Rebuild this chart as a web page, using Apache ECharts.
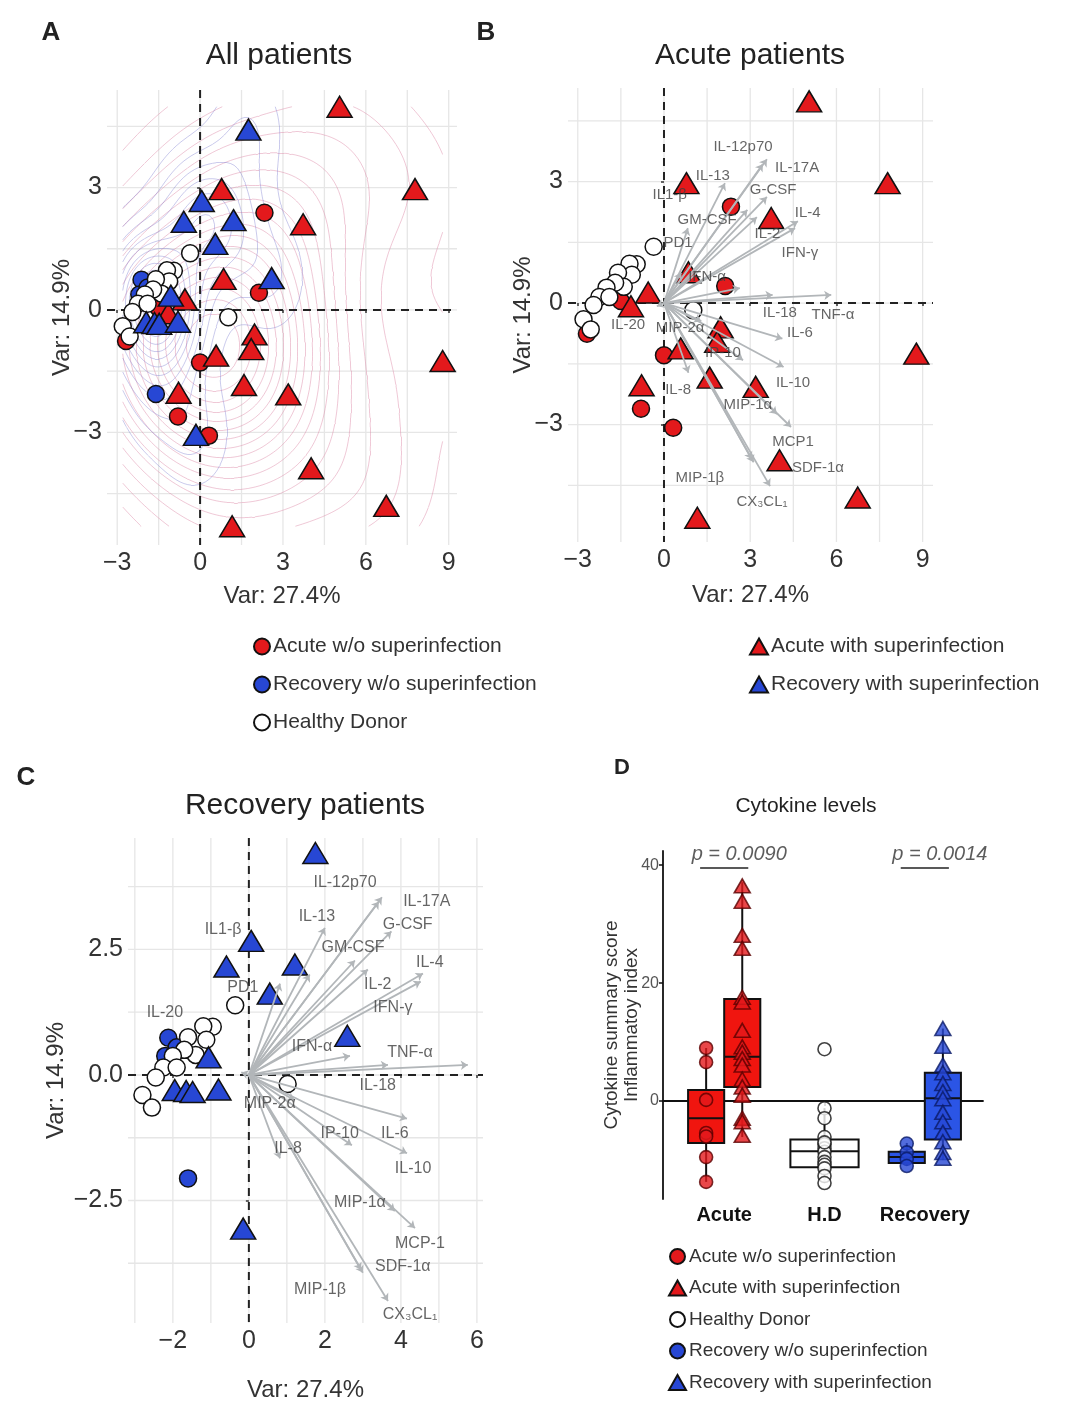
<!DOCTYPE html>
<html><head><meta charset="utf-8">
<script src="https://cdn.jsdelivr.net/npm/echarts@6.0.0/dist/echarts.min.js"></script>
<style>html,body{margin:0;padding:0;background:#fff}#c{width:1080px;height:1406px}</style>
</head><body><div id="c"></div>
<script>
// ================= DATA =================
// PCA scores (PC1 = Var 27.4%, PC2 = Var 14.9%)
const acuteWo   = [[2.33,2.38],[2.13,0.42],[0,-1.29],[-0.8,-2.61],[0.32,-3.08],[-1.5,0.05],[-2.68,-0.76]];
const acuteWith = [[5.05,4.98],[7.78,2.96],[0.78,2.96],[3.73,2.1],[0.85,0.76],[-0.55,0.26],[-1.15,-0.08],[1.97,-0.6],[1.85,-0.96],[0.58,-1.12],[8.78,-1.25],[1.59,-1.84],[3.19,-2.07],[-0.78,-2.03],[4.02,-3.88],[6.74,-4.8],[1.16,-5.3]];
const recWo     = [[-1.6,-2.06],[-2.12,0.74],[-2.2,0.38],[-1.9,0.55]];
const recWith   = [[1.75,4.42],[0.06,2.67],[-0.59,2.16],[1.21,2.2],[0.55,1.62],[2.59,0.78],[-0.15,-3.06],[-1.95,-0.3],[-1.65,-0.32],[-1.48,-0.34],[-0.8,-0.29],[-1.06,0.35]];
const healthy   = [[-0.36,1.39],[-0.95,0.96],[-1.2,0.97],[-1.12,0.7],[-1.6,0.75],[-1.4,0.4],[-1.7,0.5],[-2.0,0.38],[-2.25,0.15],[-2.45,-0.05],[-2.8,-0.4],[-2.55,-0.65],[1.02,-0.18],[-1.9,0.15]];

// Panel B (acute) loadings
const bNames = ['IL-12p70','IL-17A','IL-13','IL1-β','G-CSF','GM-CSF','IL-4','IL-2','IFN-γ','PD1','IFN-α','IL-18','TNF-α','IL-20','MIP-2α','IL-6','IP-10','IL-10','IL-8','MIP-1α','MCP1','SDF-1α','MIP-1β','CX₃CL₁'];
const bLoad  = [[3.58,3.55],[3.44,3.43],[2.12,2.96],[2.9,2.3],[3.58,2.62],[0.83,1.85],[4.66,2.02],[3.23,2.12],[4.56,1.85],[0.6,0.75],[2.64,0.37],[3.78,0.2],[5.82,0.2],[-0.25,-0.08],[1.3,-0.45],[4.12,-0.88],[2.75,-1.41],[4.16,-1.58],[0.85,-1.72],[3.93,-2.74],[4.42,-3.06],[3.12,-3.93],[3.05,-3.85],[3.69,-4.52]];
const bLabel = [[2.75,3.85],[4.63,3.33],[1.7,3.14],[0.2,2.67],[3.8,2.79],[1.5,2.05],[5.0,2.22],[3.6,1.7],[4.73,1.23],[0.49,1.48],[1.5,0.64],[4.03,-0.25],[5.88,-0.3],[-1.25,-0.54],[0.56,-0.62],[4.73,-0.74],[2.05,-1.23],[4.49,-1.98],[0.49,-2.15],[2.92,-2.52],[4.49,-3.43],[5.36,-4.07],[1.25,-4.32],[3.41,-4.91]];

// Panel C (recovery) loadings
const cNames = ['IL-12p70','IL-17A','IL-13','IL1-β','G-CSF','GM-CSF','IL-4','IL-2','IFN-γ','PD1','IFN-α','IL-18','TNF-α','IL-20','MIP-2α','IL-6','IP-10','IL-10','IL-8','MIP-1α','MCP-1','SDF-1α','MIP-1β','CX₃CL₁'];
const cLoad  = [[3.5,3.54],[3.42,3.45],[2.0,2.93],[1.6,2.0],[3.75,2.86],[2.79,2.28],[4.58,2.02],[3.13,2.1],[4.52,1.86],[0.82,1.82],[2.66,0.38],[3.66,0.2],[5.76,0.2],[-0.2,0.05],[1.2,-0.5],[4.16,-0.87],[2.71,-1.4],[4.16,-1.56],[0.82,-1.66],[3.84,-2.71],[4.37,-3.05],[3.0,-3.94],[2.95,-3.88],[3.66,-4.5]];
const cLabel = [[2.53,3.84],[4.68,3.45],[1.79,3.15],[-0.68,2.89],[4.18,2.99],[2.74,2.53],[4.76,2.24],[3.39,1.8],[3.79,1.35],[-0.16,1.74],[1.66,0.57],[3.39,-0.22],[4.24,0.44],[-2.21,1.25],[0.55,-0.57],[3.84,-1.17],[2.39,-1.17],[4.32,-1.86],[1.03,-1.47],[2.92,-2.55],[4.5,-3.35],[4.05,-3.82],[1.87,-4.28],[4.24,-4.77]];

// Tick values
const abXTicks = [-3,0,3,6,9];
const abYTicks = [-3,0,3];
const abXGrid  = [-3,-1.5,0,1.5,3,4.5,6,7.5,9];
const abYGrid  = [-4.5,-3,-1.5,0,1.5,3,4.5];
const cXTicks  = [-2,0,2,4,6];
const cYTicks  = [-2.5,0,2.5];
const cXGrid   = [-3,-2,-1,0,1,2,3,4,5,6];
const cYGrid   = [-3.75,-2.5,-1.25,0,1.25,2.5,3.75];

// Panel D: cytokine summary score
const dCategories = ['Acute','H.D','Recovery'];
const dYTicks = [0,20,40];
const acuteWoScore   = [9.0,6.6,0.2,-5.4,-6.0,-9.5,-13.7];
const acuteWithScore = [36.5,33.9,28.1,25.9,17.6,16.8,12.0,9.2,8.3,7.2,6.1,3.7,2.4,1.0,-2.9,-3.5,-5.8];
const hdScore        = [8.8,-1.2,-2.9,-6.1,-7.3,-8.0,-8.6,-9.5,-10.3,-10.8,-11.4,-12.7,-13.9,-7.0];
const recWoScore     = [-7.2,-8.7,-9.8,-11.0];
const recWithScore   = [12.3,9.3,6.1,4.8,3.0,1.6,0.4,-1.9,-3.5,-5.3,-6.9,-8.7,-9.7];
// box stats [lower whisker, q1, median, q3, upper whisker]
const acuteWoBox   = [-13.7,-7.1,-2.9,1.9,9.0];
const acuteWithBox = [-6.1,2.4,7.5,17.3,37.1];
const hdBox        = [-13.9,-11.2,-8.5,-6.5,-1.2];
const recWoBox     = [-11.0,-10.5,-9.5,-8.6,-7.1];
const recWithBox   = [-10.0,-6.5,0.5,4.8,12.3];
const pValues = ['p = 0.0090','p = 0.0014'];
const pCats   = [1,3];
const pLineY  = 39.5;
const pTextY  = 41.9;

// ================= STYLE / LAYOUT =================
const FONT = '"Liberation Sans", Arial, Helvetica, sans-serif';
const RED = '#e3191c', BLUE = '#2747d4';
const RED_BOX = '#f0150f', BLUE_BOX = '#2b55e6';
const S_CIRCLE = 17, S_TRI = [25,21];
const CLEAR = 'rgba(0,0,0,0)';
const minus = v => (v < 0 ? '\u2212' : '') + Math.abs(v);
const minus1 = v => (v < 0 ? '\u2212' : '') + Math.abs(v).toFixed(1);

const grids = [
  {left:107, top:90,  width:350, height:455},
  {left:568, top:88,  width:365, height:454},
  {left:128, top:838, width:355, height:485},
  {left:663, top:851, width:320, height:348}
];

function pcaXAxis(gi, min, max, ticks, fmt, nameGap) {
  return {gridIndex:gi, type:'value', min, max, splitLine:{show:false}, axisLine:{show:false},
    axisTick:{show:true, customValues:ticks, length:3, lineStyle:{color:'#333', width:1.5}},
    axisLabel:{customValues:ticks, formatter:fmt, fontSize:25, color:'#333', margin:6, fontFamily:FONT},
    name:'Var: 27.4%', nameLocation:'middle', nameGap, nameMoveOverlap:false,
    nameTextStyle:{fontSize:24, color:'#333', fontFamily:FONT}};
}
function pcaYAxis(gi, min, max, ticks, fmt, nameGap) {
  return {gridIndex:gi, type:'value', min, max, splitLine:{show:false}, axisLine:{show:false},
    axisTick:{show:true, customValues:ticks, length:3, lineStyle:{color:'#333', width:1.5}},
    axisLabel:{customValues:ticks, formatter:fmt, fontSize:25, color:'#333', margin:5, fontFamily:FONT},
    name:'Var: 14.9%', nameLocation:'middle', nameGap, nameMoveOverlap:false,
    nameTextStyle:{fontSize:24, color:'#333', fontFamily:FONT}};
}

function refLines(gi, vals, dir, style, z) {
  return {type:'custom', xAxisIndex:gi, yAxisIndex:gi, silent:true, z, clip:false, animation:false,
    data: vals.map(v => dir === 'v' ? [v, 0] : [0, v]),
    renderItem(params, api) {
      const cs = params.coordSys;
      const p = api.coord([api.value(0), api.value(1)]);
      const shape = dir === 'v' ? {x1:p[0], y1:cs.y, x2:p[0], y2:cs.y+cs.height}
                                : {x1:cs.x, y1:p[1], x2:cs.x+cs.width, y2:p[1]};
      return {type:'line', shape, style};
    }};
}
const gridStyle = {stroke:'#e6e6e6', lineWidth:1.3};
const dashStyle = {stroke:'#222', lineWidth:2, lineDash:[8,6]};

function pcaScatter(gi, name, data, shape, fill) {
  return {type:'scatter', name, xAxisIndex:gi, yAxisIndex:gi, data, silent:true, animation:false, z:3,
    symbol:shape, symbolSize: shape === 'circle' ? S_CIRCLE : S_TRI,
    itemStyle:{color:fill, borderColor:'#111', borderWidth:1.5, opacity:1}};
}

function arrows(gi, load) {
  return {type:'lines', coordinateSystem:'cartesian2d', xAxisIndex:gi, yAxisIndex:gi, silent:true, animation:false, z:4,
    data: load.map(t => ({coords:[[0,0], t]})),
    symbol:['none','arrow'], symbolSize:7,
    lineStyle:{color:'#b2b6b9', width:1.8, opacity:1}};
}
function labels(gi, pos, names, size) {
  return {type:'scatter', xAxisIndex:gi, yAxisIndex:gi, silent:true, animation:false, z:5,
    symbolSize:1, itemStyle:{color:CLEAR, borderWidth:0},
    data: pos.map((p,i) => ({value:p, name:names[i]})),
    label:{show:true, position:'inside', formatter:'{b}', fontSize:size, color:'#3f3f3f', fontFamily:FONT}};
}

// ---- 2D kernel density + marching squares (contours of panel A) ----
function quantile(arr, p) {
  const s = [...arr].sort((a,b)=>a-b); const h = (s.length-1)*p; const lo = Math.floor(h);
  return s[lo] + (h-lo)*(s[Math.min(lo+1, s.length-1)] - s[lo]);
}
function bw(arr) {
  const n = arr.length, m = arr.reduce((a,b)=>a+b,0)/n;
  const sd = Math.sqrt(arr.reduce((a,b)=>a+(b-m)*(b-m),0)/(n-1));
  const iqr = (quantile(arr,0.75) - quantile(arr,0.25))/1.34;
  return 1.06*Math.min(sd, iqr)*Math.pow(n,-0.2);
}
function contours(pts, ext, N, nLevels, bwScale) {
  const hx = bw(pts.map(p=>p[0]))*bwScale, hy = bw(pts.map(p=>p[1]))*bwScale;
  const xs = [], ys = [];
  for (let i=0;i<N;i++){ xs.push(ext[0]+(ext[1]-ext[0])*i/(N-1)); ys.push(ext[2]+(ext[3]-ext[2])*i/(N-1)); }
  const z = []; let zmax = 0;
  for (let i=0;i<N;i++){ z.push([]); for (let j=0;j<N;j++){
    let s = 0; for (const p of pts){ const a=(xs[i]-p[0])/hx, b=(ys[j]-p[1])/hy; s += Math.exp(-0.5*(a*a+b*b)); }
    s /= pts.length*2*Math.PI*hx*hy; z[i].push(s); if (s>zmax) zmax=s; } }
  const table = {1:[[3,0]],2:[[0,1]],3:[[3,1]],4:[[1,2]],5:[[3,0],[1,2]],6:[[0,2]],7:[[3,2]],8:[[2,3]],9:[[0,2]],10:[[0,1],[2,3]],11:[[1,2]],12:[[1,3]],13:[[0,1]],14:[[0,3]]};
  const segs = [];
  for (let k=1;k<=nLevels;k++){
    const L = zmax*k/(nLevels+1);
    for (let i=0;i<N-1;i++) for (let j=0;j<N-1;j++){
      const v0=z[i][j], v1=z[i+1][j], v2=z[i+1][j+1], v3=z[i][j+1];
      const idx=(v0>L?1:0)|(v1>L?2:0)|(v2>L?4:0)|(v3>L?8:0);
      if (idx===0||idx===15) continue;
      const ep = e => {
        if (e===0) return [xs[i]+(L-v0)/(v1-v0)*(xs[i+1]-xs[i]), ys[j]];
        if (e===1) return [xs[i+1], ys[j]+(L-v1)/(v2-v1)*(ys[j+1]-ys[j])];
        if (e===2) return [xs[i]+(L-v3)/(v2-v3)*(xs[i+1]-xs[i]), ys[j+1]];
        return [xs[i], ys[j]+(L-v0)/(v3-v0)*(ys[j+1]-ys[j])];
      };
      for (const pr of table[idx]) segs.push({coords:[ep(pr[0]), ep(pr[1])]});
    }
  }
  return segs;
}
const allPts = acuteWo.concat(acuteWith, recWo, recWith, healthy);
const ext = [Math.min(...allPts.map(p=>p[0])), Math.max(...allPts.map(p=>p[0])),
             Math.min(...allPts.map(p=>p[1])), Math.max(...allPts.map(p=>p[1]))];
const redSegs  = contours(acuteWo.concat(acuteWith), ext, 90, 18, 1.55);
const blueSegs = contours(recWo.concat(recWith), ext, 90, 12, 1.1);
function contourSeries(segs, color, op) {
  return {type:'lines', coordinateSystem:'cartesian2d', xAxisIndex:0, yAxisIndex:0, silent:true, animation:false, z:1,
    polyline:false, data:segs, lineStyle:{color, width:1, opacity:op}};
}

// ---- Panel D ----
const DODGE = 0.18;
const dGroups = [
  {name:'Acute w/o superinfection',    stats:acuteWoBox,   vals:acuteWoScore,   cat:1, side:-1, fill:RED_BOX,  pt:RED,    ptb:'#5a0000', shape:'circle'},
  {name:'Acute with superinfection',   stats:acuteWithBox, vals:acuteWithScore, cat:1, side:1,  fill:RED_BOX,  pt:RED,    ptb:'#5a0000', shape:'triangle'},
  {name:'Healthy Donor',               stats:hdBox,        vals:hdScore,        cat:2, side:0,  fill:'#fff',   pt:'#fff', ptb:'#111',    shape:'circle'},
  {name:'Recovery w/o superinfection', stats:recWoBox,     vals:recWoScore,     cat:3, side:-1, fill:BLUE_BOX, pt:BLUE,   ptb:'#0a1a66', shape:'circle'},
  {name:'Recovery with superinfection',stats:recWithBox,   vals:recWithScore,   cat:3, side:1,  fill:BLUE_BOX, pt:BLUE,   ptb:'#0a1a66', shape:'triangle'}
];
const boxSeries = {type:'custom', xAxisIndex:3, yAxisIndex:3, silent:true, animation:false, z:2,
  data: dGroups.map((g,i) => [g.cat + g.side*DODGE, g.stats[2], i]),
  renderItem(params, api) {
    const g = dGroups[api.value(2)], cx = api.value(0), s = g.stats;
    const w = g.side === 0 ? 0.68 : 0.36;
    const top = api.coord([cx, s[4]]), bot = api.coord([cx, s[0]]);
    const a = api.coord([cx - w/2, s[3]]), b = api.coord([cx + w/2, s[1]]);
    const m1 = api.coord([cx - w/2, s[2]]), m2 = api.coord([cx + w/2, s[2]]);
    return {type:'group', children:[
      {type:'line', shape:{x1:top[0], y1:top[1], x2:bot[0], y2:bot[1]}, style:{stroke:'#111', lineWidth:2}},
      {type:'rect', shape:{x:a[0], y:a[1], width:b[0]-a[0], height:b[1]-a[1]}, style:{fill:g.fill, stroke:'#111', lineWidth:2}},
      {type:'line', shape:{x1:m1[0], y1:m1[1], x2:m2[0], y2:m2[1]}, style:{stroke:'#111', lineWidth:2}}
    ]};
  }};
const dPoints = dGroups.map(g => ({type:'scatter', name:g.name, xAxisIndex:3, yAxisIndex:3, silent:true, animation:false, z:3,
  data: g.vals.map(v => [g.cat + g.side*DODGE, v]),
  symbol:g.shape, symbolSize: g.shape === 'circle' ? 13 : [16,14],
  itemStyle:{color:g.pt, borderColor:g.ptb, borderWidth:1.6}}));
const pLines = {type:'lines', coordinateSystem:'cartesian2d', xAxisIndex:3, yAxisIndex:3, silent:true, animation:false, z:3,
  data: pCats.map(c => ({coords:[[c-0.24, pLineY],[c+0.24, pLineY]]})), lineStyle:{color:'#222', width:1.6, opacity:1}};
const pText = {type:'scatter', xAxisIndex:3, yAxisIndex:3, silent:true, animation:false, z:3, symbolSize:1,
  itemStyle:{color:CLEAR, borderWidth:0},
  data: pCats.map((c,i) => ({value:[c+0.15, pTextY], name:pValues[i]})),
  label:{show:true, position:'inside', formatter:'{b}', fontSize:20, fontStyle:'italic', color:'#333', fontFamily:FONT}};

// ================= OPTION =================
const series = [
  // Panel A
  refLines(0, abXGrid, 'v', gridStyle, 0), refLines(0, abYGrid, 'h', gridStyle, 0),
  contourSeries(redSegs, '#dc86a4', 0.45), contourSeries(blueSegs, '#7a7ad0', 0.4),
  refLines(0, [0], 'v', dashStyle, 2), refLines(0, [0], 'h', dashStyle, 2),
  pcaScatter(0, 'Acute w/o superinfection', acuteWo, 'circle', RED),
  pcaScatter(0, 'Recovery w/o superinfection', recWo, 'circle', BLUE),
  pcaScatter(0, 'Healthy Donor', healthy, 'circle', '#fff'),
  pcaScatter(0, 'Acute with superinfection', acuteWith, 'triangle', RED),
  pcaScatter(0, 'Recovery with superinfection', recWith, 'triangle', BLUE),
  // Panel B
  refLines(1, abXGrid, 'v', gridStyle, 0), refLines(1, abYGrid, 'h', gridStyle, 0),
  refLines(1, [0], 'v', dashStyle, 2), refLines(1, [0], 'h', dashStyle, 2),
  pcaScatter(1, 'Acute w/o superinfection', acuteWo, 'circle', RED),
  pcaScatter(1, 'Healthy Donor', healthy, 'circle', '#fff'),
  pcaScatter(1, 'Acute with superinfection', acuteWith, 'triangle', RED),
  arrows(1, bLoad), labels(1, bLabel, bNames, 15),
  // Panel C
  refLines(2, cXGrid, 'v', gridStyle, 0), refLines(2, cYGrid, 'h', gridStyle, 0),
  refLines(2, [0], 'v', dashStyle, 2), refLines(2, [0], 'h', dashStyle, 2),
  pcaScatter(2, 'Recovery w/o superinfection', recWo, 'circle', BLUE),
  pcaScatter(2, 'Healthy Donor', healthy, 'circle', '#fff'),
  pcaScatter(2, 'Recovery with superinfection', recWith, 'triangle', BLUE),
  arrows(2, cLoad), labels(2, cLabel, cNames, 16),
  // Panel D
  boxSeries, ...dPoints, pLines, pText
];

const titleText = (text, x, y, size, weight) => ({type:'text', x, y, silent:true,
  style:{text, fontSize:size, fontWeight:weight||'normal', fill:'#222', fontFamily:FONT, align:'center', verticalAlign:'middle'}});

const option = {
  animation:false,
  textStyle:{fontFamily:FONT},
  grid: grids,
  xAxis: [
    pcaXAxis(0, -3.37, 9.3, abXTicks, minus, 39),
    pcaXAxis(1, -3.34, 9.36, abXTicks, minus, 41),
    pcaXAxis(2, -3.18, 6.16, cXTicks, minus, 55),
    {gridIndex:3, type:'value', min:0.39, max:3.58, splitLine:{show:false},
      axisLine:{show:true, lineStyle:{color:'#111', width:1.8}},
      axisTick:{show:true, customValues:[1,2,3], length:5, lineStyle:{color:'#111', width:1.5}},
      axisLabel:{customValues:[1,2,3], formatter:v => dCategories[Math.round(v)-1], fontSize:20, fontWeight:'bold', color:'#111', margin:6, fontFamily:FONT}}
  ],
  yAxis: [
    pcaYAxis(0, -5.76, 5.39, abYTicks, minus, 33),
    pcaYAxis(1, -5.9, 5.31, abYTicks, minus, 33),
    pcaYAxis(2, -4.94, 4.72, cYTicks, minus1, 60),
    {gridIndex:3, type:'value', min:-16.6, max:42.4, splitLine:{show:false},
      axisLine:{show:true, lineStyle:{color:'#111', width:1.8}},
      axisTick:{show:true, customValues:dYTicks, length:4, lineStyle:{color:'#111', width:1.5}},
      axisLabel:{customValues:dYTicks, fontSize:16, color:'#555', margin:4, fontFamily:FONT},
      name:'Cytokine summary score\nInflammatoy index', nameLocation:'middle', nameGap:21, nameMoveOverlap:false,
      nameTextStyle:{fontSize:19, color:'#333', lineHeight:20, fontFamily:FONT}}
  ],
  legend: [
    {orient:'vertical', left:248, top:631, itemGap:17, itemWidth:16, itemHeight:16, selectedMode:false,
     data:['Acute w/o superinfection','Recovery w/o superinfection','Healthy Donor'],
     textStyle:{fontSize:21, color:'#333', fontFamily:FONT, padding:[0,0,0,-2]}},
    {orient:'vertical', left:744, top:631, itemGap:17, itemWidth:18, itemHeight:16, selectedMode:false,
     data:['Acute with superinfection','Recovery with superinfection'],
     textStyle:{fontSize:21, color:'#333', fontFamily:FONT, padding:[0,0,0,-2]}},
    {orient:'vertical', left:663, top:1242, itemGap:12.5, itemWidth:17, itemHeight:15, selectedMode:false,
     data:['Acute w/o superinfection','Acute with superinfection','Healthy Donor','Recovery w/o superinfection','Recovery with superinfection'],
     textStyle:{fontSize:19, color:'#333', fontFamily:FONT, padding:[0,0,0,-2]}}
  ],
  graphic: [
    titleText('A', 51, 33, 26, 'bold'),
    titleText('B', 486, 33, 26, 'bold'),
    titleText('C', 26, 778, 26, 'bold'),
    titleText('D', 622, 768, 22, 'bold'),
    titleText('All patients', 279, 56, 30),
    titleText('Acute patients', 750, 56, 30),
    titleText('Recovery patients', 305, 806, 30),
    titleText('Cytokine levels', 806, 806, 21)
  ],
  series
};
const chart = echarts.init(document.getElementById('c'), null, {renderer:'canvas'});
chart.setOption(option);
</script>
</body></html>
